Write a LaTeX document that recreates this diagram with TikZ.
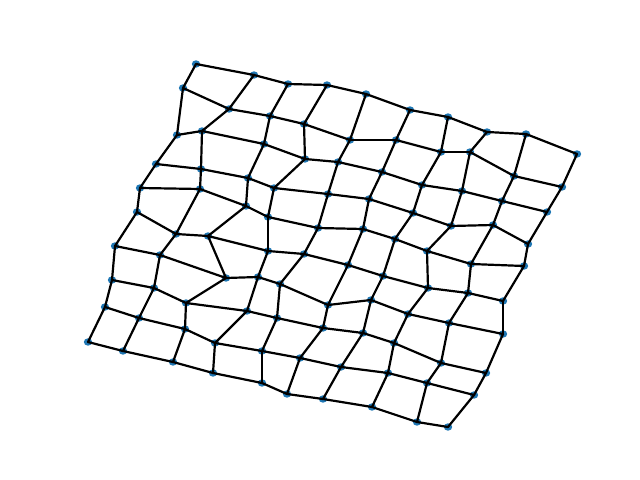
\documentclass[tikz,border=0pt]{standalone}
\usetikzlibrary{shapes.geometric}
\definecolor{nodeblue}{HTML}{1F77B4}
\begin{document}
\begin{tikzpicture}[x=1bp,y=-1bp,
  dot/.style={ellipse,fill=nodeblue,draw=none,inner sep=0pt,minimum width=8.4bp,minimum height=7.4bp},
  edge/.style={black,line width=2.2bp,line cap=round}]
\useasboundingbox (0,0) rectangle (640,480);
\foreach \r/\c/\x/\y in {
0/0/196/64, 0/1/254/75, 0/2/288/84, 0/3/327/85, 0/4/366/94, 0/5/410/110, 0/6/448/117, 0/7/487/132, 0/8/526/134, 0/9/577/154,
1/0/183/88, 1/1/229/109, 1/2/270/116, 1/3/304/124, 1/4/350/140, 1/5/396/140, 1/6/441/152, 1/7/470/152, 1/8/514/176, 1/9/562/187,
2/0/177/135, 2/1/202/131, 2/2/264/144, 2/3/305/159, 2/4/338/162, 2/5/382/172, 2/6/422/185, 2/7/462/191, 2/8/502/201, 2/9/547/212,
3/0/156/164, 3/1/201/169, 3/2/248/178, 3/3/274/188, 3/4/328/194, 3/5/369/199, 3/6/413/213, 3/7/451/226, 3/8/493/225, 3/9/528/244,
4/0/140/188, 4/1/200/189, 4/2/246/206, 4/3/268/217, 4/4/318/228, 4/5/363/229, 4/6/395/239, 4/7/427/251, 4/8/471/264, 4/9/524/266,
5/0/137/212, 5/1/176/234, 5/2/208/236, 5/3/268/251, 5/4/304/254, 5/5/348/265, 5/6/383/276, 5/7/428/288, 5/8/468/293, 5/9/503/301,
6/0/115/246, 6/1/160/255, 6/2/226/278, 6/3/258/277, 6/4/280/284, 6/5/328/305, 6/6/371/300, 6/7/408/314, 6/8/449/323, 6/9/503/334,
7/0/112/280, 7/1/154/288, 7/2/186/303, 7/3/247/311, 7/4/277/318, 7/5/323/328, 7/6/363/333, 7/7/394/343, 7/8/441/363, 7/9/486/373,
8/0/105/307, 8/1/139/318, 8/2/185/329, 8/3/215/343, 8/4/262/351, 8/5/300/358, 8/6/341/367, 8/7/388/373, 8/8/427/383, 8/9/474/395,
9/0/88/342, 9/1/123/351, 9/2/173/362, 9/3/213/373, 9/4/262/383, 9/5/287/394, 9/6/323/399, 9/7/372/407, 9/8/417/422, 9/9/448/427}
  {\node[dot] (n-\r-\c) at (\x,\y) {};}
\foreach \r in {0,...,9}{
  \foreach \c [evaluate=\c as \d using int(\c+1)] in {0,...,8}{
    \draw[edge] (n-\r-\c.center) -- (n-\r-\d.center);
    \draw[edge] (n-\c-\r.center) -- (n-\d-\r.center);
  }
}
\end{tikzpicture}
\end{document}
